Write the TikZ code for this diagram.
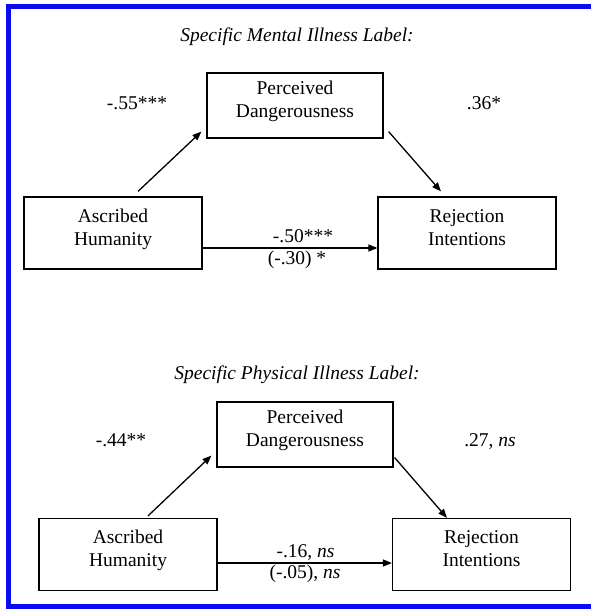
\documentclass[tikz,border=0pt]{standalone}
\usepackage{fontspec}
\setmainfont{Liberation Serif}
\usetikzlibrary{arrows.meta}
\definecolor{frameblue}{RGB}{10,10,245}
\tikzset{
  box/.style={draw, line width=1.2pt, inner sep=0pt, align=center,
    minimum width=178pt, minimum height=72pt, text height=37pt, text depth=13pt,
    font=\fontsize{19.5}{23}\selectfont},
  pbox/.style={box, minimum width=176pt, minimum height=65pt},
  coef/.style={inner sep=0pt, anchor=base, font=\fontsize{19.5}{23}\selectfont},
  ttl/.style={inner sep=0pt, anchor=base, font=\fontsize{19.5}{23}\selectfont\itshape},
  arr/.style={line width=1.3pt, -{Triangle[length=9pt,width=7pt]}}
}
\begin{document}
\begin{tikzpicture}[x=1pt,y=-1pt]
\useasboundingbox (0,0) rectangle (591,609);
\fill[white] (0,0) rectangle (591,609);
% frame
\draw[frameblue, line width=5pt] (591,6.5) -- (8.5,6.5) -- (8.5,606.5) -- (591,606.5);

% ---------- top panel ----------
\node[ttl] (t1) at (297,42) {Specific Mental Illness Label:};
\node[pbox] (per1) at (295,105.5) {Perceived\\Dangerousness};
\node[box] (asc1) at (113,233) {Ascribed\\Humanity};
\node[box] (rej1) at (467,233) {Rejection\\Intentions};
\draw[arr] ([xshift=25pt,yshift=5pt]asc1.north) -- ([xshift=-5pt,yshift=7pt]per1.south west);
\draw[arr] ([xshift=5pt,yshift=7pt]per1.south east) -- ([xshift=-26pt,yshift=5pt]rej1.north);
\draw[arr] ([yshift=-15pt]asc1.east) -- ([yshift=-15pt]rej1.west);
\node[coef] (c1a) at (137,110) {-.55***};
\node[coef] (c1b) at (484,110) {.36*};
\node[coef] (c1c) at (303,243) {-.50***};
\node[coef] (c1d) at (297,264) {(-.30) *};

% ---------- bottom panel ----------
\node[ttl] (t2) at (297,379) {Specific Physical Illness Label:};
\node[pbox] (per2) at (305,434.5) {Perceived\\Dangerousness};
\node[box] (asc2) at (128,554.5) {Ascribed\\Humanity};
\node[box] (rej2) at (481.5,554.5) {Rejection\\Intentions};
\draw[arr] ([xshift=20pt,yshift=2pt]asc2.north) -- ([xshift=-5pt,yshift=12pt]per2.south west);
\draw[arr] ([xshift=1pt,yshift=10pt]per2.south east) -- ([xshift=-34.5pt]rej2.north);
\draw[arr] ([yshift=-8.5pt]asc2.east) -- ([yshift=-8.5pt]rej2.west);
\node[coef] (c2a) at (121,446) {-.44**};
\node[coef] (c2b) at (490,446) {.27, \textit{ns}};
\node[coef] (c2c) at (305.5,557) {-.16, \textit{ns}};
\node[coef] (c2d) at (305,578) {(-.05), \textit{ns}};
\end{tikzpicture}
\end{document}
